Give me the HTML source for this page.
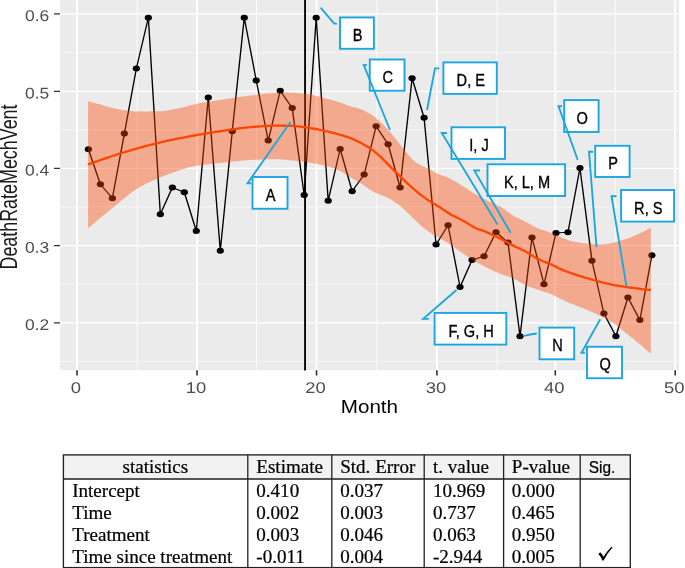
<!DOCTYPE html>
<html><head><meta charset="utf-8"><title>Chart</title>
<style>html,body{margin:0;padding:0;background:#fff}body{width:685px;height:568px;overflow:hidden}</style>
</head><body>
<svg width="685" height="568" viewBox="0 0 685 568" style="display:block;font-family:'Liberation Sans',sans-serif">
<rect width="685" height="568" fill="#fff"/>
<rect x="60.0" y="0.0" width="619.1" height="370.2" fill="#EBEBEB"/>
<path d="M60.0,52.8H679.1M60.0,130.0H679.1M60.0,206.9H679.1M60.0,284.3H679.1M60.0,361.4H679.1" stroke="#fff" stroke-opacity="0.8" stroke-width="0.8" fill="none"/>
<path d="M137.2,0.0V370.2M256.5,0.0V370.2M376.9,0.0V370.2M497.0,0.0V370.2M615.3,0.0V370.2" stroke="#fff" stroke-opacity="0.8" stroke-width="1.0" fill="none"/>
<path d="M60.0,13.9H679.1M60.0,91.3H679.1M60.0,168.4H679.1M60.0,245.7H679.1M60.0,322.8H679.1" stroke="#fff" stroke-width="1.3" fill="none"/>
<path d="M77.0,0.0V370.2M197.0,0.0V370.2M316.55,0.0V370.2M436.9,0.0V370.2M555.3,0.0V370.2M675.2,0.0V370.2" stroke="#fff" stroke-width="1.8" fill="none"/>
<g transform="scale(1.19,1)">
<path d="M74.28,149.25 L84.36,184.25 L94.43,198.25 L104.51,133.60 L114.58,68.50 L124.66,17.75 L134.73,214.25 L144.81,187.50 L154.88,192.25 L164.96,231.00 L175.03,97.50 L185.11,250.75 L195.18,131.25 L205.26,17.75 L215.33,80.50 L225.41,140.50 L235.48,90.75 L245.56,108.00 L255.63,195.00 L265.71,17.75 L275.78,200.75 L285.86,149.00 L295.93,191.25 L306.01,174.50 L316.08,126.25 L326.15,144.25 L336.23,187.50 L346.30,78.25 L356.38,117.75 L366.45,244.50 L376.53,225.25 L386.60,287.00 L396.68,260.00 L406.75,256.25 L416.83,232.25 L426.90,242.50 L436.98,336.25 L447.05,237.50 L457.13,284.25 L467.20,233.00 L477.28,232.25 L487.35,168.00 L497.43,260.75 L507.50,313.50 L517.58,336.25 L527.65,297.50 L537.73,320.00 L547.80,255.25" stroke="#000" stroke-width="1.15" fill="none" stroke-linejoin="round"/>
<circle cx="74.28" cy="149.25" r="3.05" fill="#000"/>
<circle cx="84.36" cy="184.25" r="3.05" fill="#000"/>
<circle cx="94.43" cy="198.25" r="3.05" fill="#000"/>
<circle cx="104.51" cy="133.60" r="3.05" fill="#000"/>
<circle cx="114.58" cy="68.50" r="3.05" fill="#000"/>
<circle cx="124.66" cy="17.75" r="3.05" fill="#000"/>
<circle cx="134.73" cy="214.25" r="3.05" fill="#000"/>
<circle cx="144.81" cy="187.50" r="3.05" fill="#000"/>
<circle cx="154.88" cy="192.25" r="3.05" fill="#000"/>
<circle cx="164.96" cy="231.00" r="3.05" fill="#000"/>
<circle cx="175.03" cy="97.50" r="3.05" fill="#000"/>
<circle cx="185.11" cy="250.75" r="3.05" fill="#000"/>
<circle cx="195.18" cy="131.25" r="3.05" fill="#000"/>
<circle cx="205.26" cy="17.75" r="3.05" fill="#000"/>
<circle cx="215.33" cy="80.50" r="3.05" fill="#000"/>
<circle cx="225.41" cy="140.50" r="3.05" fill="#000"/>
<circle cx="235.48" cy="90.75" r="3.05" fill="#000"/>
<circle cx="245.56" cy="108.00" r="3.05" fill="#000"/>
<circle cx="255.63" cy="195.00" r="3.05" fill="#000"/>
<circle cx="265.71" cy="17.75" r="3.05" fill="#000"/>
<circle cx="275.78" cy="200.75" r="3.05" fill="#000"/>
<circle cx="285.86" cy="149.00" r="3.05" fill="#000"/>
<circle cx="295.93" cy="191.25" r="3.05" fill="#000"/>
<circle cx="306.01" cy="174.50" r="3.05" fill="#000"/>
<circle cx="316.08" cy="126.25" r="3.05" fill="#000"/>
<circle cx="326.15" cy="144.25" r="3.05" fill="#000"/>
<circle cx="336.23" cy="187.50" r="3.05" fill="#000"/>
<circle cx="346.30" cy="78.25" r="3.05" fill="#000"/>
<circle cx="356.38" cy="117.75" r="3.05" fill="#000"/>
<circle cx="366.45" cy="244.50" r="3.05" fill="#000"/>
<circle cx="376.53" cy="225.25" r="3.05" fill="#000"/>
<circle cx="386.60" cy="287.00" r="3.05" fill="#000"/>
<circle cx="396.68" cy="260.00" r="3.05" fill="#000"/>
<circle cx="406.75" cy="256.25" r="3.05" fill="#000"/>
<circle cx="416.83" cy="232.25" r="3.05" fill="#000"/>
<circle cx="426.90" cy="242.50" r="3.05" fill="#000"/>
<circle cx="436.98" cy="336.25" r="3.05" fill="#000"/>
<circle cx="447.05" cy="237.50" r="3.05" fill="#000"/>
<circle cx="457.13" cy="284.25" r="3.05" fill="#000"/>
<circle cx="467.20" cy="233.00" r="3.05" fill="#000"/>
<circle cx="477.28" cy="232.25" r="3.05" fill="#000"/>
<circle cx="487.35" cy="168.00" r="3.05" fill="#000"/>
<circle cx="497.43" cy="260.75" r="3.05" fill="#000"/>
<circle cx="507.50" cy="313.50" r="3.05" fill="#000"/>
<circle cx="517.58" cy="336.25" r="3.05" fill="#000"/>
<circle cx="527.65" cy="297.50" r="3.05" fill="#000"/>
<circle cx="537.73" cy="320.00" r="3.05" fill="#000"/>
<circle cx="547.80" cy="255.25" r="3.05" fill="#000"/>
</g>
<path d="M305.05,0.0V370.5" stroke="#000" stroke-width="1.85"/>
<path d="M88.10,101.25 L90.45,101.86 L92.81,102.48 L95.16,103.10 L97.52,103.73 L99.87,104.37 L102.23,105.02 L104.58,105.71 L106.94,106.40 L109.29,107.06 L111.64,107.68 L114.00,108.22 L116.35,108.74 L118.71,109.23 L121.06,109.68 L123.42,110.07 L125.77,110.40 L128.12,110.73 L130.48,111.03 L132.83,111.29 L135.19,111.46 L137.54,111.50 L139.90,111.49 L142.25,111.48 L144.61,111.46 L146.96,111.44 L149.31,111.41 L151.67,111.37 L154.02,111.33 L156.38,111.28 L158.73,111.23 L161.09,111.16 L163.44,110.99 L165.79,110.71 L168.15,110.35 L170.50,109.94 L172.86,109.47 L175.21,108.98 L177.57,108.49 L179.92,108.02 L182.28,107.51 L184.63,106.93 L186.98,106.30 L189.34,105.65 L191.69,105.01 L194.05,104.41 L196.40,103.87 L198.76,103.41 L201.11,102.96 L203.47,102.54 L205.82,102.14 L208.17,101.75 L210.53,101.38 L212.88,101.02 L215.24,100.66 L217.59,100.31 L219.95,99.96 L222.30,99.61 L224.65,99.25 L227.01,98.89 L229.36,98.53 L231.72,98.17 L234.07,97.81 L236.43,97.46 L238.78,97.11 L241.14,96.77 L243.49,96.44 L245.84,96.13 L248.20,95.82 L250.55,95.53 L252.91,95.24 L255.26,94.95 L257.62,94.67 L259.97,94.38 L262.33,94.11 L264.68,93.85 L267.03,93.62 L269.39,93.40 L271.74,93.21 L274.10,93.05 L276.45,92.92 L278.81,92.79 L281.16,92.68 L283.51,92.61 L285.87,92.60 L288.22,92.64 L290.58,92.72 L292.93,92.83 L295.29,92.96 L297.64,93.13 L300.00,93.31 L302.35,93.51 L304.70,93.72 L307.06,93.99 L309.41,94.36 L311.77,94.84 L314.12,95.38 L316.48,95.98 L318.83,96.61 L321.18,97.25 L323.54,97.87 L325.89,98.48 L328.25,99.08 L330.60,99.71 L332.96,100.37 L335.31,101.05 L337.67,101.76 L340.02,102.51 L342.37,103.35 L344.73,104.29 L347.08,105.23 L349.44,106.07 L351.79,106.74 L354.15,107.29 L356.50,107.82 L358.86,108.44 L361.21,109.24 L363.56,110.25 L365.92,111.44 L368.27,112.76 L370.63,114.19 L372.98,115.82 L375.34,117.65 L377.69,119.64 L380.04,121.73 L382.40,123.92 L384.75,126.28 L387.11,128.79 L389.46,131.42 L391.82,134.12 L394.17,136.90 L396.53,139.89 L398.88,143.00 L401.23,146.08 L403.59,149.01 L405.94,151.83 L408.30,154.69 L410.65,157.46 L413.01,159.96 L415.36,162.03 L417.72,163.61 L420.07,164.90 L422.42,166.04 L424.78,167.12 L427.13,168.27 L429.49,169.50 L431.84,170.76 L434.20,171.99 L436.55,173.17 L438.90,174.26 L441.26,175.20 L443.61,176.04 L445.97,176.87 L448.32,177.80 L450.68,178.91 L453.03,180.16 L455.39,181.54 L457.74,182.99 L460.09,184.49 L462.45,185.99 L464.80,187.48 L467.16,188.97 L469.51,190.52 L471.87,192.06 L474.22,193.54 L476.57,194.91 L478.93,196.24 L481.28,197.54 L483.64,198.79 L485.99,200.01 L488.35,201.19 L490.70,202.33 L493.06,203.37 L495.41,204.36 L497.76,205.39 L500.12,206.56 L502.47,207.98 L504.83,209.59 L507.18,211.32 L509.54,213.05 L511.89,214.69 L514.25,216.14 L516.60,217.40 L518.95,218.57 L521.31,219.70 L523.66,220.83 L526.02,222.03 L528.37,223.31 L530.73,224.62 L533.08,225.93 L535.43,227.16 L537.79,228.28 L540.14,229.24 L542.50,230.06 L544.85,230.80 L547.21,231.54 L549.56,232.34 L551.92,233.25 L554.27,234.26 L556.62,235.31 L558.98,236.37 L561.33,237.41 L563.69,238.38 L566.04,239.31 L568.40,240.22 L570.75,240.94 L573.11,241.46 L575.46,241.93 L577.81,242.35 L580.17,242.72 L582.52,243.05 L584.88,243.34 L587.23,243.59 L589.59,243.80 L591.94,244.00 L594.29,244.19 L596.65,244.35 L599.00,244.46 L601.36,244.50 L603.71,244.40 L606.07,244.12 L608.42,243.70 L610.78,243.20 L613.13,242.68 L615.48,242.17 L617.84,241.55 L620.19,240.85 L622.55,240.09 L624.90,239.30 L627.26,238.49 L629.61,237.64 L631.96,236.74 L634.32,235.79 L636.67,234.79 L639.03,233.74 L641.38,232.62 L643.74,231.44 L646.09,230.18 L648.45,228.87 L650.80,227.50 L650.80,353.75 L648.45,351.68 L646.09,349.63 L643.74,347.60 L641.38,345.60 L639.03,343.62 L636.67,341.68 L634.32,339.77 L631.96,337.87 L629.61,335.99 L627.26,334.11 L624.90,332.18 L622.55,330.21 L620.19,328.25 L617.84,326.37 L615.48,324.61 L613.13,323.02 L610.78,321.52 L608.42,320.10 L606.07,318.76 L603.71,317.49 L601.36,316.28 L599.00,315.15 L596.65,314.08 L594.29,313.05 L591.94,312.05 L589.59,311.05 L587.23,310.05 L584.88,309.07 L582.52,308.11 L580.17,307.17 L577.81,306.23 L575.46,305.29 L573.11,304.34 L570.75,303.39 L568.40,302.41 L566.04,301.40 L563.69,300.36 L561.33,299.24 L558.98,298.05 L556.62,296.84 L554.27,295.66 L551.92,294.56 L549.56,293.58 L547.21,292.72 L544.85,291.92 L542.50,291.16 L540.14,290.39 L537.79,289.58 L535.43,288.80 L533.08,288.03 L530.73,287.23 L528.37,286.38 L526.02,285.44 L523.66,284.35 L521.31,283.00 L518.95,281.53 L516.60,280.10 L514.25,278.86 L511.89,277.88 L509.54,277.03 L507.18,276.25 L504.83,275.49 L502.47,274.69 L500.12,273.80 L497.76,272.81 L495.41,271.78 L493.06,270.70 L490.70,269.59 L488.35,268.43 L485.99,267.24 L483.64,266.01 L481.28,264.75 L478.93,263.46 L476.57,262.15 L474.22,260.80 L471.87,259.37 L469.51,257.87 L467.16,256.31 L464.80,254.70 L462.45,253.06 L460.09,251.41 L457.74,249.75 L455.39,248.11 L453.03,246.50 L450.68,244.94 L448.32,243.44 L445.97,242.00 L443.61,240.62 L441.26,239.26 L438.90,237.91 L436.55,236.54 L434.20,235.14 L431.84,233.69 L429.49,232.17 L427.13,230.56 L424.78,228.83 L422.42,226.90 L420.07,224.77 L417.72,222.54 L415.36,220.33 L413.01,218.13 L410.65,215.86 L408.30,213.55 L405.94,211.27 L403.59,209.07 L401.23,207.01 L398.88,205.12 L396.53,203.32 L394.17,201.63 L391.82,200.07 L389.46,198.71 L387.11,197.53 L384.75,196.49 L382.40,195.55 L380.04,194.64 L377.69,193.71 L375.34,192.71 L372.98,191.59 L370.63,190.27 L368.27,188.54 L365.92,186.66 L363.56,185.05 L361.21,183.56 L358.86,182.15 L356.50,180.78 L354.15,179.42 L351.79,178.06 L349.44,176.66 L347.08,175.16 L344.73,173.64 L342.37,172.22 L340.02,171.01 L337.67,169.98 L335.31,169.03 L332.96,168.15 L330.60,167.35 L328.25,166.62 L325.89,165.97 L323.54,165.40 L321.18,164.85 L318.83,164.34 L316.48,163.85 L314.12,163.38 L311.77,162.95 L309.41,162.55 L307.06,162.18 L304.70,161.84 L302.35,161.53 L300.00,161.25 L297.64,160.99 L295.29,160.72 L292.93,160.46 L290.58,160.21 L288.22,159.97 L285.87,159.76 L283.51,159.58 L281.16,159.43 L278.81,159.32 L276.45,159.26 L274.10,159.25 L271.74,159.27 L269.39,159.30 L267.03,159.35 L264.68,159.41 L262.33,159.49 L259.97,159.57 L257.62,159.66 L255.26,159.76 L252.91,159.87 L250.55,159.97 L248.20,160.10 L245.84,160.26 L243.49,160.45 L241.14,160.67 L238.78,160.92 L236.43,161.18 L234.07,161.45 L231.72,161.73 L229.36,162.01 L227.01,162.28 L224.65,162.54 L222.30,162.78 L219.95,163.02 L217.59,163.25 L215.24,163.49 L212.88,163.72 L210.53,163.97 L208.17,164.23 L205.82,164.50 L203.47,164.80 L201.11,165.12 L198.76,165.47 L196.40,165.85 L194.05,166.29 L191.69,166.80 L189.34,167.36 L186.98,167.98 L184.63,168.65 L182.28,169.36 L179.92,170.11 L177.57,170.90 L175.21,171.72 L172.86,172.57 L170.50,173.44 L168.15,174.33 L165.79,175.24 L163.44,176.15 L161.09,177.07 L158.73,178.00 L156.38,178.97 L154.02,179.98 L151.67,181.03 L149.31,182.13 L146.96,183.28 L144.61,184.49 L142.25,185.74 L139.90,187.06 L137.54,188.43 L135.19,189.88 L132.83,191.48 L130.48,193.19 L128.12,194.99 L125.77,196.88 L123.42,198.81 L121.06,200.78 L118.71,202.77 L116.35,204.74 L114.00,206.69 L111.64,208.60 L109.29,210.51 L106.94,212.44 L104.58,214.38 L102.23,216.33 L99.87,218.29 L97.52,220.27 L95.16,222.26 L92.81,224.26 L90.45,226.27 L88.10,228.30Z" fill="#FF4500" fill-opacity="0.4"/>
<path d="M88.10,164.50 L90.45,163.63 L92.81,162.77 L95.16,161.91 L97.52,161.07 L99.87,160.24 L102.23,159.42 L104.58,158.61 L106.94,157.81 L109.29,157.02 L111.64,156.24 L114.00,155.48 L116.35,154.72 L118.71,153.97 L121.06,153.23 L123.42,152.50 L125.77,151.78 L128.12,151.07 L130.48,150.38 L132.83,149.69 L135.19,149.01 L137.54,148.35 L139.90,147.69 L142.25,147.04 L144.61,146.40 L146.96,145.76 L149.31,145.14 L151.67,144.53 L154.02,143.94 L156.38,143.36 L158.73,142.80 L161.09,142.25 L163.44,141.72 L165.79,141.19 L168.15,140.68 L170.50,140.17 L172.86,139.67 L175.21,139.18 L177.57,138.70 L179.92,138.22 L182.28,137.76 L184.63,137.30 L186.98,136.85 L189.34,136.40 L191.69,135.96 L194.05,135.53 L196.40,135.11 L198.76,134.69 L201.11,134.28 L203.47,133.88 L205.82,133.48 L208.17,133.09 L210.53,132.71 L212.88,132.33 L215.24,131.96 L217.59,131.60 L219.95,131.24 L222.30,130.89 L224.65,130.55 L227.01,130.21 L229.36,129.86 L231.72,129.50 L234.07,129.15 L236.43,128.81 L238.78,128.48 L241.14,128.16 L243.49,127.87 L245.84,127.60 L248.20,127.36 L250.55,127.15 L252.91,126.96 L255.26,126.76 L257.62,126.56 L259.97,126.38 L262.33,126.20 L264.68,126.05 L267.03,125.92 L269.39,125.81 L271.74,125.74 L274.10,125.70 L276.45,125.70 L278.81,125.71 L281.16,125.72 L283.51,125.73 L285.87,125.75 L288.22,125.78 L290.58,125.81 L292.93,125.91 L295.29,126.10 L297.64,126.35 L300.00,126.64 L302.35,126.95 L304.70,127.26 L307.06,127.58 L309.41,127.94 L311.77,128.33 L314.12,128.75 L316.48,129.20 L318.83,129.68 L321.18,130.17 L323.54,130.68 L325.89,131.20 L328.25,131.73 L330.60,132.28 L332.96,132.86 L335.31,133.46 L337.67,134.09 L340.02,134.75 L342.37,135.44 L344.73,136.18 L347.08,136.96 L349.44,137.79 L351.79,138.69 L354.15,139.67 L356.50,140.73 L358.86,141.88 L361.21,143.11 L363.56,144.42 L365.92,145.80 L368.27,147.24 L370.63,148.75 L372.98,150.40 L375.34,152.28 L377.69,154.31 L380.04,156.43 L382.40,158.61 L384.75,160.96 L387.11,163.40 L389.46,165.88 L391.82,168.32 L394.17,170.65 L396.53,172.93 L398.88,175.18 L401.23,177.40 L403.59,179.62 L405.94,181.83 L408.30,184.05 L410.65,186.25 L413.01,188.40 L415.36,190.46 L417.72,192.42 L420.07,194.31 L422.42,196.12 L424.78,197.84 L427.13,199.46 L429.49,200.99 L431.84,202.46 L434.20,203.90 L436.55,205.34 L438.90,206.80 L441.26,208.32 L443.61,209.89 L445.97,211.47 L448.32,212.99 L450.68,214.39 L453.03,215.68 L455.39,216.89 L457.74,218.06 L460.09,219.23 L462.45,220.43 L464.80,221.69 L467.16,223.09 L469.51,224.61 L471.87,226.10 L474.22,227.42 L476.57,228.47 L478.93,229.34 L481.28,230.14 L483.64,230.97 L485.99,231.91 L488.35,232.93 L490.70,233.99 L493.06,235.10 L495.41,236.23 L497.76,237.39 L500.12,238.56 L502.47,239.78 L504.83,241.05 L507.18,242.34 L509.54,243.64 L511.89,244.91 L514.25,246.12 L516.60,247.26 L518.95,248.35 L521.31,249.43 L523.66,250.57 L526.02,251.80 L528.37,253.18 L530.73,254.65 L533.08,256.14 L535.43,257.57 L537.79,258.89 L540.14,260.03 L542.50,261.03 L544.85,261.95 L547.21,262.86 L549.56,263.81 L551.92,264.86 L554.27,265.99 L556.62,267.14 L558.98,268.28 L561.33,269.38 L563.69,270.38 L566.04,271.29 L568.40,272.16 L570.75,273.01 L573.11,273.83 L575.46,274.62 L577.81,275.39 L580.17,276.13 L582.52,276.85 L584.88,277.56 L587.23,278.24 L589.59,278.92 L591.94,279.58 L594.29,280.24 L596.65,280.89 L599.00,281.53 L601.36,282.14 L603.71,282.74 L606.07,283.31 L608.42,283.85 L610.78,284.36 L613.13,284.83 L615.48,285.27 L617.84,285.69 L620.19,286.09 L622.55,286.48 L624.90,286.84 L627.26,287.19 L629.61,287.53 L631.96,287.85 L634.32,288.16 L636.67,288.46 L639.03,288.75 L641.38,289.03 L643.74,289.29 L646.09,289.54 L648.45,289.78 L650.80,290.00" stroke="#FF4500" stroke-width="2.3" fill="none" stroke-linejoin="round"/>
<path d="M54.0,13.9H60.0M54.0,91.3H60.0M54.0,168.4H60.0M54.0,245.7H60.0M54.0,322.8H60.0" stroke="#333" stroke-width="1.2" fill="none"/>
<path d="M77.0,370.2V375.59999999999997M197.0,370.2V375.59999999999997M316.55,370.2V375.59999999999997M436.9,370.2V375.59999999999997M555.3,370.2V375.59999999999997M675.2,370.2V375.59999999999997" stroke="#333" stroke-width="1.6" fill="none"/>
<defs><filter id="bl" x="-5%" y="-20%" width="110%" height="140%"><feGaussianBlur stdDeviation="0.45"/></filter><filter id="bl2" x="-10%" y="-20%" width="120%" height="140%"><feGaussianBlur stdDeviation="0.3"/></filter></defs>
<g filter="url(#bl)">
<text transform="translate(49.3,21.00) scale(1.125,1) rotate(0.03)" text-anchor="end" font-size="15.5" fill="#4D4D4D">0.6</text>
<text transform="translate(49.3,98.40) scale(1.125,1) rotate(0.03)" text-anchor="end" font-size="15.5" fill="#4D4D4D">0.5</text>
<text transform="translate(49.3,175.50) scale(1.125,1) rotate(0.03)" text-anchor="end" font-size="15.5" fill="#4D4D4D">0.4</text>
<text transform="translate(49.3,252.80) scale(1.125,1) rotate(0.03)" text-anchor="end" font-size="15.5" fill="#4D4D4D">0.3</text>
<text transform="translate(49.3,329.90) scale(1.125,1) rotate(0.03)" text-anchor="end" font-size="15.5" fill="#4D4D4D">0.2</text>
<text transform="translate(76.00,392.6) scale(1.19,1) rotate(0.03)" text-anchor="middle" font-size="15.5" fill="#4D4D4D">0</text>
<text transform="translate(196.00,392.6) scale(1.19,1) rotate(0.03)" text-anchor="middle" font-size="15.5" fill="#4D4D4D">10</text>
<text transform="translate(315.55,392.6) scale(1.19,1) rotate(0.03)" text-anchor="middle" font-size="15.5" fill="#4D4D4D">20</text>
<text transform="translate(435.90,392.6) scale(1.19,1) rotate(0.03)" text-anchor="middle" font-size="15.5" fill="#4D4D4D">30</text>
<text transform="translate(554.30,392.6) scale(1.19,1) rotate(0.03)" text-anchor="middle" font-size="15.5" fill="#4D4D4D">40</text>
<text transform="translate(674.20,392.6) scale(1.19,1) rotate(0.03)" text-anchor="middle" font-size="15.5" fill="#4D4D4D">50</text>
<text transform="translate(369.4,413.1) scale(1.11,1)" text-anchor="middle" font-size="18.6" fill="#000">Month</text>
<text transform="translate(17.3,187.0) scale(1.29,1) rotate(-90)" text-anchor="middle" font-size="17.9" fill="#1a1a1a">DeathRateMechVent</text>
</g>
<rect x="252.5" y="177" width="35.0" height="31.75" fill="#fff" stroke="#1CA5DE" stroke-width="1.9"/>
<text transform="translate(270.70,200.78) scale(0.90,1)" text-anchor="middle" font-size="16.2" fill="#000" stroke="#000" stroke-width="0.35" filter="url(#bl2)">A</text>
<rect x="340.0" y="17.45" width="33.89999999999998" height="31.349999999999998" fill="#fff" stroke="#1CA5DE" stroke-width="1.9"/>
<text transform="translate(357.65,41.02) scale(0.90,1)" text-anchor="middle" font-size="16.2" fill="#000" stroke="#000" stroke-width="0.35" filter="url(#bl2)">B</text>
<rect x="369.75" y="59.5" width="34.75" height="31.25" fill="#fff" stroke="#1CA5DE" stroke-width="1.9"/>
<text transform="translate(387.82,83.03) scale(0.90,1)" text-anchor="middle" font-size="16.2" fill="#000" stroke="#000" stroke-width="0.35" filter="url(#bl2)">C</text>
<rect x="443.4" y="62.4" width="53.400000000000034" height="31.500000000000007" fill="#fff" stroke="#1CA5DE" stroke-width="1.9"/>
<text transform="translate(470.80,86.05) scale(0.90,1)" text-anchor="middle" font-size="16.2" fill="#000" stroke="#000" stroke-width="0.35" filter="url(#bl2)">D, E</text>
<rect x="451.5" y="127.3" width="53.5" height="31.60000000000001" fill="#fff" stroke="#1CA5DE" stroke-width="1.9"/>
<text transform="translate(478.95,151.00) scale(0.90,1)" text-anchor="middle" font-size="16.2" fill="#000" stroke="#000" stroke-width="0.35" filter="url(#bl2)">I, J</text>
<rect x="487.5" y="164.3" width="77.60000000000002" height="31.69999999999999" fill="#fff" stroke="#1CA5DE" stroke-width="1.9"/>
<text transform="translate(527.00,188.05) scale(0.90,1)" text-anchor="middle" font-size="16.2" fill="#000" stroke="#000" stroke-width="0.35" filter="url(#bl2)">K, L, M</text>
<rect x="564.2" y="100.1" width="34.39999999999998" height="31.900000000000006" fill="#fff" stroke="#1CA5DE" stroke-width="1.9"/>
<text transform="translate(582.10,123.95) scale(0.90,1)" text-anchor="middle" font-size="16.2" fill="#000" stroke="#000" stroke-width="0.35" filter="url(#bl2)">O</text>
<rect x="595.2" y="145.8" width="34.39999999999998" height="31.19999999999999" fill="#fff" stroke="#1CA5DE" stroke-width="1.9"/>
<text transform="translate(613.10,169.30) scale(0.90,1)" text-anchor="middle" font-size="16.2" fill="#000" stroke="#000" stroke-width="0.35" filter="url(#bl2)">P</text>
<rect x="621.1" y="190" width="53.0" height="31.599999999999994" fill="#fff" stroke="#1CA5DE" stroke-width="1.9"/>
<text transform="translate(648.30,213.70) scale(0.90,1)" text-anchor="middle" font-size="16.2" fill="#000" stroke="#000" stroke-width="0.35" filter="url(#bl2)">R, S</text>
<rect x="434.6" y="312.9" width="71.69999999999999" height="31.700000000000045" fill="#fff" stroke="#1CA5DE" stroke-width="1.9"/>
<text transform="translate(471.15,336.65) scale(0.90,1)" text-anchor="middle" font-size="16.2" fill="#000" stroke="#000" stroke-width="0.35" filter="url(#bl2)">F, G, H</text>
<rect x="539.5" y="327.6" width="34.700000000000045" height="31.69999999999999" fill="#fff" stroke="#1CA5DE" stroke-width="1.9"/>
<text transform="translate(557.55,351.35) scale(0.90,1)" text-anchor="middle" font-size="16.2" fill="#000" stroke="#000" stroke-width="0.35" filter="url(#bl2)">N</text>
<rect x="587" y="346.75" width="35" height="31.5" fill="#fff" stroke="#1CA5DE" stroke-width="1.9"/>
<text transform="translate(605.20,370.40) scale(0.90,1)" text-anchor="middle" font-size="16.2" fill="#000" stroke="#000" stroke-width="0.35" filter="url(#bl2)">Q</text>
<path d="M251,183.25 L247.5,183.25 L290.5,122" stroke="#1CA5DE" stroke-width="1.85" fill="none" stroke-linejoin="miter"/>
<path d="M336.9,23.6 L334.2,23.6 L320.6,7.7" stroke="#1CA5DE" stroke-width="1.85" fill="none" stroke-linejoin="miter"/>
<path d="M367,65.2 L363.75,65 L390,130" stroke="#1CA5DE" stroke-width="1.85" fill="none" stroke-linejoin="miter"/>
<path d="M439.3,68.3 L435,68.3 L427,110" stroke="#1CA5DE" stroke-width="1.85" fill="none" stroke-linejoin="miter"/>
<path d="M447,133 L441.75,133 L497.5,224.5" stroke="#1CA5DE" stroke-width="1.85" fill="none" stroke-linejoin="miter"/>
<path d="M480,170.5 L474.25,170.5 L510.75,233" stroke="#1CA5DE" stroke-width="1.85" fill="none" stroke-linejoin="miter"/>
<path d="M562,106.25 L558.5,106.25 L577.75,160" stroke="#1CA5DE" stroke-width="1.85" fill="none" stroke-linejoin="miter"/>
<path d="M593,151.75 L589,151.75 L596.5,247" stroke="#1CA5DE" stroke-width="1.85" fill="none" stroke-linejoin="miter"/>
<path d="M616.5,196.25 L611.5,196.25 L626.5,286.25" stroke="#1CA5DE" stroke-width="1.85" fill="none" stroke-linejoin="miter"/>
<path d="M428.8,318.9 L423.2,318.9 L456.5,290" stroke="#1CA5DE" stroke-width="1.85" fill="none" stroke-linejoin="miter"/>
<path d="M584.8,352.7 L581.5,352.7 L600.2,319.3" stroke="#1CA5DE" stroke-width="1.85" fill="none" stroke-linejoin="miter"/>
<path d="M524.0,335.9 Q530,334.3 536.8,333.5" stroke="#1CA5DE" stroke-width="1.85" fill="none"/>
<rect x="63.4" y="454.9" width="566.9" height="24.100000000000023" fill="#F2F2F2"/>
<rect x="63.4" y="454.9" width="566.9" height="112.70000000000005" fill="none" stroke="#222" stroke-width="1.35"/>
<path d="M63.4,479.0H630.3M247.8,454.9V567.6M331.8,454.9V567.6M424.2,454.9V567.6M503.6,454.9V567.6M580.2,454.9V567.6" stroke="#222" stroke-width="1.3" fill="none"/>
<text transform="translate(155.3,473.3) scale(1.003,1)" text-anchor="middle" font-size="19.0" fill="#000" stroke="#000" stroke-width="0.22" font-family="'Liberation Serif',serif">statistics</text>
<text transform="translate(256.3,473.3) scale(1.003,1)" text-anchor="start" font-size="19.0" fill="#000" stroke="#000" stroke-width="0.22" font-family="'Liberation Serif',serif">Estimate</text>
<text transform="translate(340.2,473.3) scale(1.003,1)" text-anchor="start" font-size="19.0" fill="#000" stroke="#000" stroke-width="0.22" font-family="'Liberation Serif',serif">Std. Error</text>
<text transform="translate(433.0,473.3) scale(1.003,1)" text-anchor="start" font-size="19.0" fill="#000" stroke="#000" stroke-width="0.22" font-family="'Liberation Serif',serif">t. value</text>
<text transform="translate(511.8,473.3) scale(1.003,1)" text-anchor="start" font-size="19.0" fill="#000" stroke="#000" stroke-width="0.22" font-family="'Liberation Serif',serif">P-value</text>
<text transform="translate(588.8,473.2) scale(0.94,1)" text-anchor="start" font-size="16.4" fill="#000" stroke="#000" stroke-width="0.22" >Sig.</text>
<text transform="translate(72.2,496.6) scale(1.003,1)" text-anchor="start" font-size="19.0" fill="#000" stroke="#000" stroke-width="0.22" font-family="'Liberation Serif',serif">Intercept</text>
<text transform="translate(256.3,496.6) scale(1.003,1)" text-anchor="start" font-size="19.0" fill="#000" stroke="#000" stroke-width="0.22" font-family="'Liberation Serif',serif">0.410</text>
<text transform="translate(340.2,496.6) scale(1.003,1)" text-anchor="start" font-size="19.0" fill="#000" stroke="#000" stroke-width="0.22" font-family="'Liberation Serif',serif">0.037</text>
<text transform="translate(433.0,496.6) scale(1.003,1)" text-anchor="start" font-size="19.0" fill="#000" stroke="#000" stroke-width="0.22" font-family="'Liberation Serif',serif">10.969</text>
<text transform="translate(511.8,496.6) scale(1.003,1)" text-anchor="start" font-size="19.0" fill="#000" stroke="#000" stroke-width="0.22" font-family="'Liberation Serif',serif">0.000</text>
<text transform="translate(72.2,518.6) scale(1.003,1)" text-anchor="start" font-size="19.0" fill="#000" stroke="#000" stroke-width="0.22" font-family="'Liberation Serif',serif">Time</text>
<text transform="translate(256.3,518.6) scale(1.003,1)" text-anchor="start" font-size="19.0" fill="#000" stroke="#000" stroke-width="0.22" font-family="'Liberation Serif',serif">0.002</text>
<text transform="translate(340.2,518.6) scale(1.003,1)" text-anchor="start" font-size="19.0" fill="#000" stroke="#000" stroke-width="0.22" font-family="'Liberation Serif',serif">0.003</text>
<text transform="translate(433.0,518.6) scale(1.003,1)" text-anchor="start" font-size="19.0" fill="#000" stroke="#000" stroke-width="0.22" font-family="'Liberation Serif',serif">0.737</text>
<text transform="translate(511.8,518.6) scale(1.003,1)" text-anchor="start" font-size="19.0" fill="#000" stroke="#000" stroke-width="0.22" font-family="'Liberation Serif',serif">0.465</text>
<text transform="translate(72.2,540.6) scale(1.003,1)" text-anchor="start" font-size="19.0" fill="#000" stroke="#000" stroke-width="0.22" font-family="'Liberation Serif',serif">Treatment</text>
<text transform="translate(256.3,540.6) scale(1.003,1)" text-anchor="start" font-size="19.0" fill="#000" stroke="#000" stroke-width="0.22" font-family="'Liberation Serif',serif">0.003</text>
<text transform="translate(340.2,540.6) scale(1.003,1)" text-anchor="start" font-size="19.0" fill="#000" stroke="#000" stroke-width="0.22" font-family="'Liberation Serif',serif">0.046</text>
<text transform="translate(433.0,540.6) scale(1.003,1)" text-anchor="start" font-size="19.0" fill="#000" stroke="#000" stroke-width="0.22" font-family="'Liberation Serif',serif">0.063</text>
<text transform="translate(511.8,540.6) scale(1.003,1)" text-anchor="start" font-size="19.0" fill="#000" stroke="#000" stroke-width="0.22" font-family="'Liberation Serif',serif">0.950</text>
<text transform="translate(72.2,562.8) scale(1.003,1)" text-anchor="start" font-size="19.0" fill="#000" stroke="#000" stroke-width="0.22" font-family="'Liberation Serif',serif">Time since treatment</text>
<text transform="translate(256.3,562.8) scale(1.003,1)" text-anchor="start" font-size="19.0" fill="#000" stroke="#000" stroke-width="0.22" font-family="'Liberation Serif',serif">-0.011</text>
<text transform="translate(340.2,562.8) scale(1.003,1)" text-anchor="start" font-size="19.0" fill="#000" stroke="#000" stroke-width="0.22" font-family="'Liberation Serif',serif">0.004</text>
<text transform="translate(433.0,562.8) scale(1.003,1)" text-anchor="start" font-size="19.0" fill="#000" stroke="#000" stroke-width="0.22" font-family="'Liberation Serif',serif">-2.944</text>
<text transform="translate(511.8,562.8) scale(1.003,1)" text-anchor="start" font-size="19.0" fill="#000" stroke="#000" stroke-width="0.22" font-family="'Liberation Serif',serif">0.005</text>
<path d="M598.4,554.1 L600.3,552.3 Q602.3,554.3 603.6,556.7 Q606.8,551.2 611.5,546.7 L612.5,547.5 Q607.3,553.2 603.7,560.4 L602.3,560.4 Q600.8,556.6 598.4,554.1Z" fill="#000"/>
</svg>
</body></html>
